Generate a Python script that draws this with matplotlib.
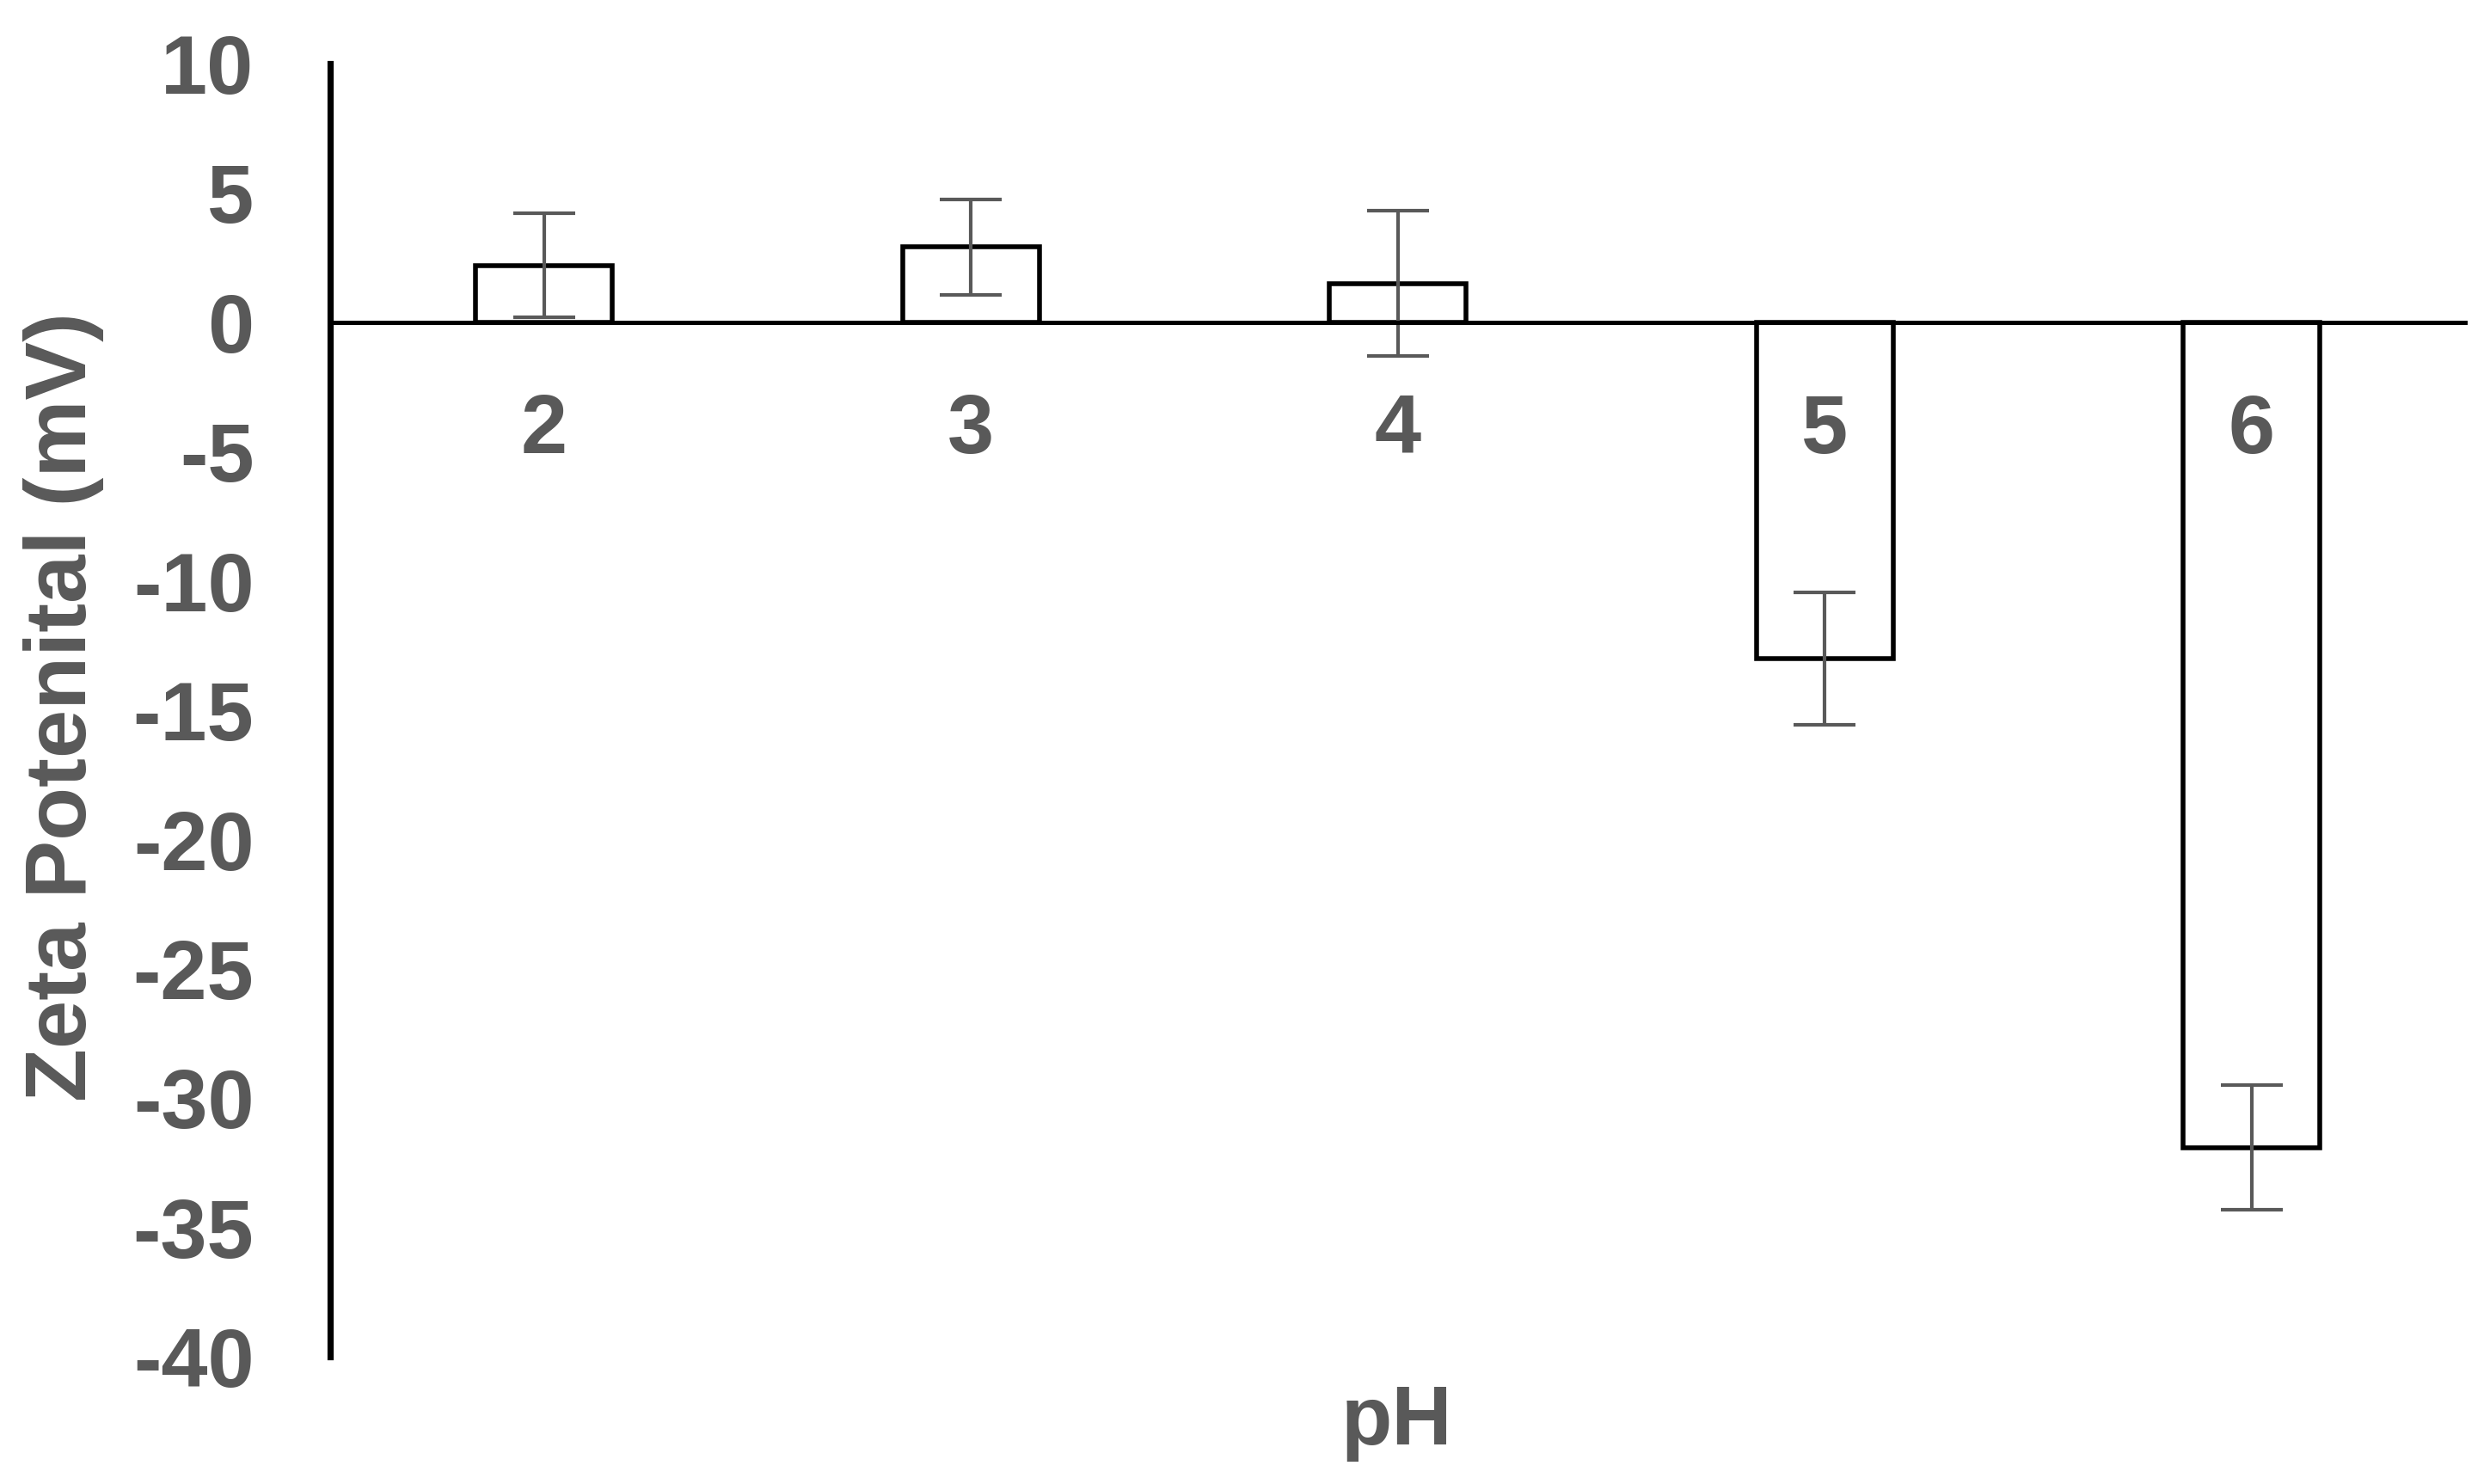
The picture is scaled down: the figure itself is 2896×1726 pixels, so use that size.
import numpy as np
import matplotlib
matplotlib.use("Agg")
import matplotlib.pyplot as plt

matplotlib.rcParams.update({
    "font.family": ["Liberation Sans", "DejaVu Sans"],
    "font.weight": "bold",
    "font.size":   35,
})

GREY = "#595959"

# data
ph_labels = ["2", "3", "4", "5", "6"]
zeta_mv   = [2.2, 2.9, 1.5, -13.0, -31.9]
zeta_err  = [2.0, 1.85, 2.8, 2.55, 2.4]
y_ticks   = [10, 5, 0, -5, -10, -15, -20, -25, -30, -35, -40]

fig = plt.figure(figsize=(14.48, 8.63), dpi=200)
ax = fig.add_axes([0.1327, 0.0856, 0.8573, 0.8716])

x = np.arange(len(ph_labels))
ax.bar(x, zeta_mv, width=0.32, color="white", edgecolor="black",
       linewidth=2.0, zorder=2)
ax.errorbar(x, zeta_mv, yerr=zeta_err, fmt="none", ecolor=GREY,
            elinewidth=1.5, capsize=13, capthick=1.5, zorder=3)

# category labels sit just below the zero line
for xi, lab in zip(x, ph_labels):
    ax.text(xi, -5.05, lab, ha="center", va="baseline",
            color=GREY, fontsize=35, fontweight="bold", zorder=4)

ax.set_xlim(-0.5, 4.5)
ax.set_ylim(-40, 10)
ax.set_yticks(y_ticks)
ax.set_yticklabels([str(v) for v in y_ticks], color=GREY,
                   fontsize=35, fontweight="bold")
ax.tick_params(axis="y", length=0, pad=32)
ax.set_xticks([])

ax.spines["top"].set_visible(False)
ax.spines["right"].set_visible(False)
ax.spines["left"].set_linewidth(2.6)
ax.spines["bottom"].set_position(("data", 0))
ax.spines["bottom"].set_linewidth(1.8)
ax.spines["bottom"].set_zorder(5)

fig.text(0.0255, 0.524, "Zeta Potenital (mV)", rotation=90,
         ha="center", va="center", color=GREY, fontsize=36.5,
         fontweight="bold")
fig.text(0.561, 0.0267, "pH", ha="center", va="baseline", color=GREY,
         fontsize=35, fontweight="bold")

fig.savefig("out.png", dpi=200)
